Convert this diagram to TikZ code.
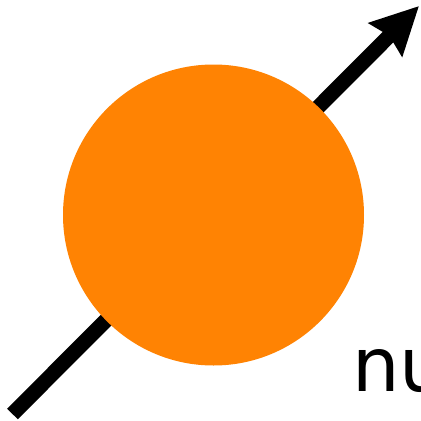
\documentclass[tikz,border=0pt]{standalone}
\usepackage{fontspec}
\setmainfont{DejaVu Sans}
\usetikzlibrary{arrows.meta}
\definecolor{ball}{HTML}{FF8303}
\tikzset{
  spinarrow/.style={line width=15pt,-{Stealth[length=47pt,width=46pt,inset=5pt]}},
  ballstyle/.style={circle,fill=ball,minimum size=301pt,inner sep=0pt},
  lbl/.style={anchor=base west,inner sep=0pt,font=\fontsize{75pt}{80pt}\selectfont}
}
\begin{document}
\begin{tikzpicture}[x=1pt,y=-1pt]
\useasboundingbox (0,0) rectangle (421,421);
\clip (0,0) rectangle (421,421);
\coordinate (tail) at (12.5,414);
\coordinate (tip) at (419,6);
\draw[spinarrow] (tail) -- (tip);
\node[ballstyle] (ball) at (213.5,215) {};
\node[lbl] (label) at (352,391) {nu};
\end{tikzpicture}
\end{document}
